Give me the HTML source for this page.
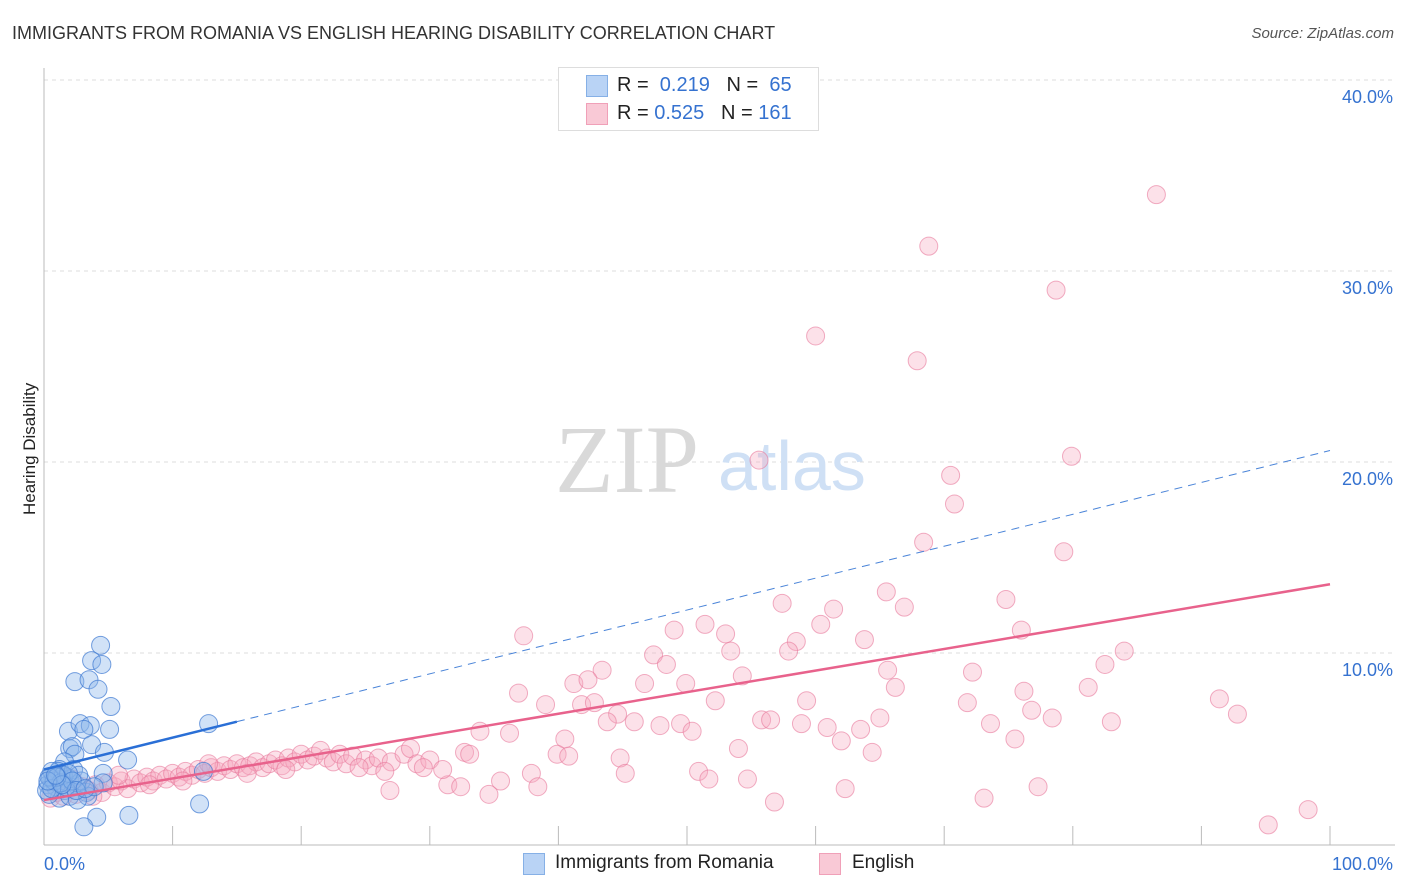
<!DOCTYPE html>
<html><head><meta charset="utf-8">
<style>
body{margin:0;background:#fff;font-family:"Liberation Sans",sans-serif;}
#wrap{position:relative;width:1406px;height:892px;overflow:hidden;}
.t{position:absolute;white-space:nowrap;}
</style></head>
<body>
<div id="wrap">
<div class="t" style="left:12px;top:23px;font-size:18px;color:#333;">IMMIGRANTS FROM ROMANIA VS ENGLISH HEARING DISABILITY CORRELATION CHART</div>
<div class="t" style="right:12px;top:25px;font-size:15px;color:#555;font-style:italic;">Source: ZipAtlas.com</div>
<div class="t" style="left:-30px;top:445px;font-size:17px;color:#222;transform:rotate(-90deg);transform-origin:center;width:120px;text-align:center;">Hearing Disability</div>
<svg id="plot" width="1406" height="892" style="position:absolute;left:0;top:0"></svg>
<div style="position:absolute;left:558px;top:67px;width:259px;height:62px;border:1px solid #ddd;background:#fff;">
 <div style="position:absolute;left:27px;top:7px;width:20px;height:20px;background:#b9d3f5;border:1px solid #86b0e6;"></div>
 <div class="t" style="left:58px;top:6px;font-size:20px;color:#222;">R = &nbsp;<span style="color:#3572d0">0.219</span>&nbsp;&nbsp;&nbsp;N = &nbsp;<span style="color:#3572d0">65</span></div>
 <div style="position:absolute;left:27px;top:35px;width:20px;height:20px;background:#f9c9d6;border:1px solid #f0a0b8;"></div>
 <div class="t" style="left:58px;top:34px;font-size:20px;color:#222;">R = <span style="color:#3572d0">0.525</span>&nbsp;&nbsp;&nbsp;N = <span style="color:#3572d0">161</span></div>
</div>
<div style="position:absolute;left:523px;top:853px;">
 <div style="position:absolute;left:0;top:0;width:20px;height:20px;background:#b9d3f5;border:1px solid #86b0e6;"></div>
 <div class="t" style="left:32px;top:-1px;font-size:19px;color:#222;">Immigrants from Romania</div>
</div>
<div style="position:absolute;left:819px;top:853px;">
 <div style="position:absolute;left:0;top:0;width:20px;height:20px;background:#f9c9d6;border:1px solid #f0a0b8;"></div>
 <div class="t" style="left:33px;top:-1px;font-size:19px;color:#222;">English</div>
</div>
</div>
<script>
const yTicks=[10,20,30,40];
const yTickLabels=["10.0%","20.0%","30.0%","40.0%"];
const xTickLabels=["0.0%","100.0%"];
const blueTrend=[3.9,0.167];
const pinkTrend=[2.3,0.113];
const blueX=[4.4,3.7,4.5,2.4,3.5,4.2,5.2,12.8,1.9,2.8,3.6,5.1,3.1,2.0,2.2,3.7,2.4,4.7,6.5,1.6,1.2,1.0,0.5,0.7,1.4,1.8,2.0,0.3,0.9,1.6,2.5,4.6,4.6,3.3,1.2,2.0,3.4,0.4,2.6,12.1,4.1,6.6,3.1,12.4,1.1,0.2,0.6,2.3,1.7,0.8,1.5,2.9,0.4,1.3,2.7,3.9,0.6,1.9,2.2,1.0,0.3,2.5,3.2,1.4,0.9];
const blueY=[10.4,9.6,9.4,8.5,8.6,8.1,7.2,6.3,5.9,6.3,6.2,6.0,6.0,5.0,5.1,5.2,4.7,4.8,4.4,4.3,3.9,3.6,3.5,3.4,3.4,3.5,3.4,3.1,3.0,2.8,3.1,3.7,3.2,2.7,2.4,2.5,2.5,2.6,2.3,2.1,1.4,1.5,0.9,3.8,3.8,2.8,3.8,3.9,3.0,3.3,3.6,3.3,3.5,3.2,3.6,3.0,2.9,3.7,3.3,3.5,3.3,2.8,2.9,3.1,3.6];
const pinkX=[86.5,68.8,78.7,60.0,67.9,55.6,79.9,70.5,70.8,68.4,79.3,65.5,57.4,74.8,61.4,66.9,37.3,49.0,51.4,53.0,60.4,76.0,58.5,63.8,47.4,53.4,57.9,84.0,82.5,43.4,48.4,65.6,72.2,41.2,42.3,46.7,49.9,54.3,66.2,36.9,76.2,81.2,39.0,41.8,42.8,52.2,59.3,71.8,91.4,44.6,76.8,92.8,43.8,45.9,47.9,49.5,55.8,56.5,58.9,65.0,73.6,78.4,83.0,50.4,60.9,63.5,33.9,36.2,62.0,75.5,40.5,54.0,64.4,44.8,39.9,40.8,32.7,33.1,50.9,45.2,37.9,51.7,54.7,35.5,38.4,31.4,32.4,26.9,34.6,62.3,77.3,56.8,73.1,95.2,98.3,
0.5,1,1.5,2,2.5,3,3.5,4,4.5,5,5.5,6,6.5,7,7.5,8,8.5,9,9.5,10,10.5,11,11.5,12,12.5,13,13.5,14,14.5,15,15.5,16,16.5,17,17.5,18,18.5,19,19.5,20,20.5,21,21.5,22,22.5,23,23.5,24,25,25.5,26,27,28,28.5,29,30,31,29.5,2.2,3.8,5.8,8.2,10.8,12.8,15.8,18.8,24.5,26.5];
const pinkY=[34.0,31.3,29.0,26.6,25.3,20.1,20.3,19.3,17.8,15.8,15.3,13.2,12.6,12.8,12.3,12.4,10.9,11.2,11.5,11.0,11.5,11.2,10.6,10.7,9.9,10.1,10.1,10.1,9.4,9.1,9.4,9.1,9.0,8.4,8.6,8.4,8.4,8.8,8.2,7.9,8.0,8.2,7.3,7.3,7.4,7.5,7.5,7.4,7.6,6.8,7.0,6.8,6.4,6.4,6.2,6.3,6.5,6.5,6.3,6.6,6.3,6.6,6.4,5.9,6.1,6.0,5.9,5.8,5.4,5.5,5.5,5.0,4.8,4.5,4.7,4.6,4.8,4.7,3.8,3.7,3.7,3.4,3.4,3.3,3.0,3.1,3.0,2.8,2.6,2.9,3.0,2.2,2.4,1.0,1.8,
2.4,2.7,2.5,2.9,2.6,3.0,2.8,3.1,2.7,3.2,3.0,3.3,2.9,3.4,3.2,3.5,3.3,3.6,3.4,3.7,3.5,3.8,3.6,3.9,3.7,4.0,3.8,4.1,3.9,4.2,4.0,4.1,4.3,4.0,4.2,4.4,4.1,4.5,4.3,4.7,4.4,4.6,4.9,4.5,4.3,4.7,4.2,4.6,4.4,4.1,4.5,4.3,4.7,5.0,4.2,4.4,3.9,4.0,3.4,2.5,3.6,3.1,3.3,4.2,3.7,3.9,4.0,3.8];
const X0=44,X1=1330,Y0=844,PXPER=19.1;
const sx=v=>X0+(X1-X0)*v/100;
const sy=v=>Y0-PXPER*v;
const svg=document.getElementById('plot');
const NS='http://www.w3.org/2000/svg';
function mk(tag,attrs){const e=document.createElementNS(NS,tag);for(const k in attrs)e.setAttribute(k,attrs[k]);svg.appendChild(e);return e;}
// grid
yTicks.forEach((t,i)=>{
 const g=mk('line',{x1:X0,x2:1395,y1:sy(t),y2:sy(t),stroke:'#ddd','stroke-dasharray':'4,4'});
 
 
 const tx=mk('text',{x:1393,y:sy(t)+23,'text-anchor':'end','font-size':'18',fill:'#3572d0','font-family':'Liberation Sans, sans-serif'});
 tx.textContent=yTickLabels[i];
 
 
});
// axes
const ax=mk('line',{x1:X0,x2:X0,y1:68,y2:845,stroke:'#bbb'});


const bx=mk('line',{x1:X0,x2:1395,y1:845,y2:845,stroke:'#bbb'});


for(let i=1;i<=10;i++){
 const tk=mk('line',{x1:sx(i*10),x2:sx(i*10),y1:826,y2:845,stroke:'#bbb'});
 
 
}
[[0,'start',44],[100,'end',1393]].forEach((d,i)=>{
 const tx=mk('text',{x:d[2],y:870,'text-anchor':d[1],'font-size':'18',fill:'#3572d0','font-family':'Liberation Sans, sans-serif'});
 tx.textContent=xTickLabels[i];
 
 
});
// watermark
const wm=mk('text',{x:555,y:492,'font-size':'96','font-family':'Liberation Serif, serif',fill:'#d9d9d9'});
wm.textContent='ZIP';


const wm2=mk('text',{x:718,y:490,'font-size':'70','font-family':'Liberation Sans, sans-serif',fill:'#cfe0f5'});
wm2.textContent='atlas';


// points
pinkX.forEach((x,i)=>{
 const c=mk('circle',{cx:sx(x),cy:sy(pinkY[i]),r:9,fill:'rgba(246,170,192,0.35)',stroke:'rgba(232,120,155,0.6)','stroke-width':1});
 
 
});
blueX.forEach((x,i)=>{
 const c=mk('circle',{cx:sx(x),cy:sy(blueY[i]),r:9,fill:'rgba(140,182,236,0.4)',stroke:'rgba(60,120,210,0.7)','stroke-width':1});
 
 
});
// trend lines
const pl=mk('line',{x1:sx(0),y1:sy(pinkTrend[0]),x2:sx(100),y2:sy(pinkTrend[0]+pinkTrend[1]*100),stroke:'#e8628c','stroke-width':2.5});


const bd=mk('line',{x1:sx(15),y1:sy(blueTrend[0]+blueTrend[1]*15),x2:sx(100),y2:sy(blueTrend[0]+blueTrend[1]*100),stroke:'#4a84d8','stroke-width':1,'stroke-dasharray':'8,6'});


const bl=mk('line',{x1:sx(0),y1:sy(blueTrend[0]),x2:sx(15),y2:sy(blueTrend[0]+blueTrend[1]*15),stroke:'#2a6fd6','stroke-width':2.5});


</script>
</body></html>
